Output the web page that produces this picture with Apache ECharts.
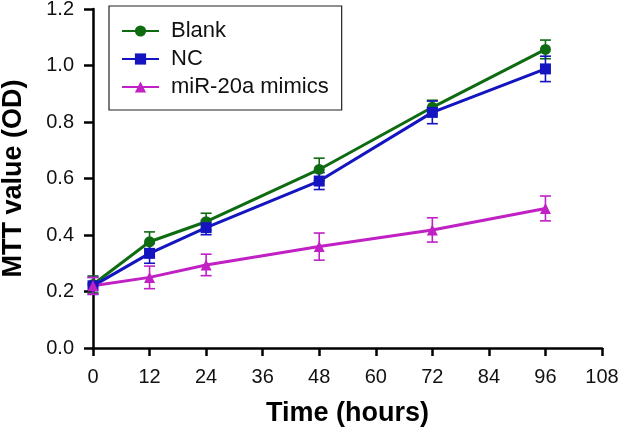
<!DOCTYPE html>
<html><head><meta charset="utf-8">
<script src="https://cdn.jsdelivr.net/npm/echarts@6/dist/echarts.min.js"></script>
<style>html,body{margin:0;padding:0;background:#fff}#c{width:620px;height:429px}</style>
</head><body><div id="c"></div>
<script>
const hours = [0, 12, 24, 48, 72, 96];
const blank = [0.225, 0.376, 0.447, 0.632, 0.852, 1.057];
const blankErr = [0.03, 0.035, 0.03, 0.04, 0.025, 0.033];
const nc = [0.22, 0.335, 0.426, 0.591, 0.834, 0.988];
const ncErr = [0.03, 0.035, 0.025, 0.03, 0.04, 0.045];
const mimics = [0.22, 0.25, 0.294, 0.359, 0.418, 0.494];
const mimicsErr = [0.03, 0.04, 0.038, 0.048, 0.043, 0.044];
const xTicks = [0, 12, 24, 36, 48, 60, 72, 84, 96, 108];
const names = ['Blank', 'NC', 'miR-20a mimics'];
const colors = ['#0f6b12', '#1414c0', '#c020c4'];

const chart = echarts.init(document.getElementById('c'));
const font = 'Liberation Sans, Arial, sans-serif';

function lineSeries(name, vals, color, symbol, size) {
  return {
    name, type: 'line', data: hours.map((h, i) => [h, vals[i]]),
    symbol, symbolSize: size, itemStyle: { color },
    lineStyle: { color, width: 3 }, z: 3
  };
}
function errSeries(vals, errs, color) {
  return {
    type: 'custom', data: hours.map((h, i) => [h, vals[i] - errs[i], vals[i] + errs[i]]),
    z: 2, silent: true,
    renderItem: (params, api) => {
      const lo = api.coord([api.value(0), api.value(1)]);
      const hi = api.coord([api.value(0), api.value(2)]);
      const w = 5.5;
      const st = { stroke: color, lineWidth: 1.6, fill: null };
      return { type: 'group', children: [
        { type: 'line', shape: { x1: lo[0], y1: lo[1], x2: hi[0], y2: hi[1] }, style: st },
        { type: 'line', shape: { x1: lo[0] - w, y1: lo[1], x2: lo[0] + w, y2: lo[1] }, style: st },
        { type: 'line', shape: { x1: hi[0] - w, y1: hi[1], x2: hi[0] + w, y2: hi[1] }, style: st }
      ]};
    }
  };
}

chart.setOption({
  animation: false,
  backgroundColor: '#fff',
  grid: { left: 93, right: 18, top: 9, bottom: 81, containLabel: false, outerBoundsMode: 'none' },
  legend: {
    orient: 'vertical', left: 109, top: 6,
    data: names,
    itemWidth: 37, itemHeight: 14, itemGap: 6,
    padding: [14, 13, 12, 12],
    borderColor: '#222', borderWidth: 1.2,
    textStyle: { fontFamily: font, fontSize: 22, lineHeight: 22, color: '#111', padding: [0, 0, 0, 7] }
  },
  xAxis: {
    type: 'value', min: 0, max: 108, interval: 12,
    name: 'Time (hours)', nameLocation: 'middle', nameGap: 52,
    nameTextStyle: { fontFamily: font, fontSize: 27, fontWeight: 'bold', color: '#000' },
    axisLine: { show: true, onZero: false, lineStyle: { color: '#000', width: 2.5 } },
    axisTick: { show: true, length: 8, lineStyle: { color: '#000', width: 2.5 } },
    axisLabel: { fontFamily: font, fontSize: 20, color: '#111', margin: 19,
      formatter: v => xTicks.includes(v) ? String(v) : '' },
    splitLine: { show: false }
  },
  yAxis: {
    type: 'value', min: 0, max: 1.2, interval: 0.2,
    name: 'MTT value (OD)', nameLocation: 'middle', nameGap: 66,
    nameTextStyle: { fontFamily: font, fontSize: 27, fontWeight: 'bold', color: '#000' },
    axisLine: { show: true, lineStyle: { color: '#000', width: 2.5 } },
    axisTick: { show: true, length: 9, lineStyle: { color: '#000', width: 2.5 } },
    axisLabel: { fontFamily: font, fontSize: 20, color: '#111', margin: 19, formatter: v => v.toFixed(1) },
    splitLine: { show: false }
  },
  series: [
    errSeries(blank, blankErr, colors[0]),
    errSeries(nc, ncErr, colors[1]),
    errSeries(mimics, mimicsErr, colors[2]),
    lineSeries(names[0], blank, colors[0], 'circle', 11),
    lineSeries(names[1], nc, colors[1], 'rect', 11),
    lineSeries(names[2], mimics, colors[2], 'triangle', 11)
  ]
});
</script></body></html>
